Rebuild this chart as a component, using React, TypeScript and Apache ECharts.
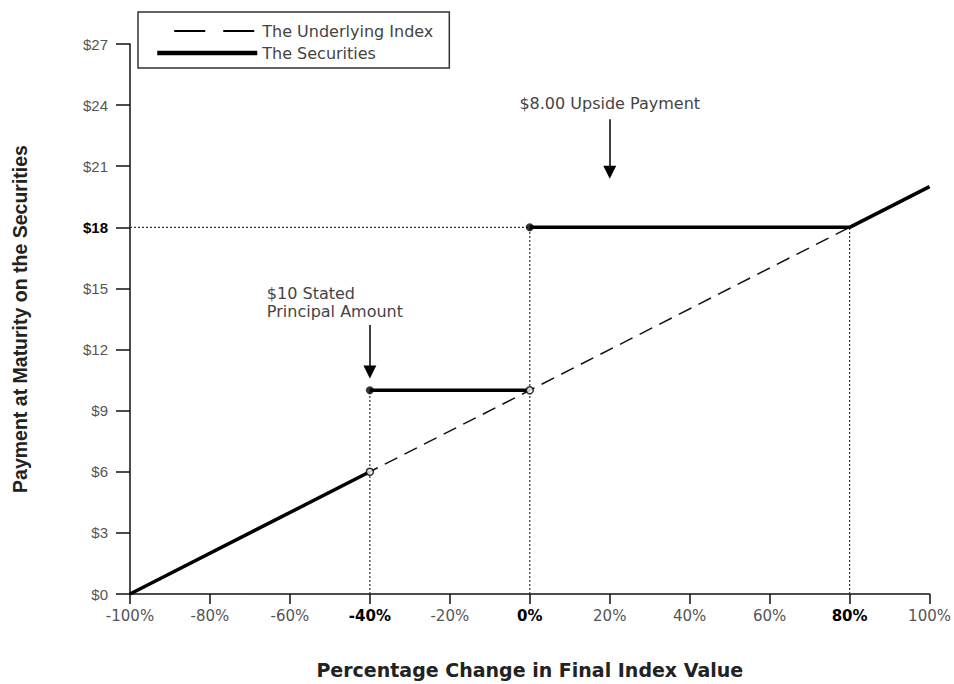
import React, { useEffect, useRef } from "react";
import * as echarts from "echarts";

// ---- data ----
const X_BOLD = [-40, 0, 80];
const Y_BOLD = [18];

const INDEX_PCT = [-100, -40, 0, 80, 100];
const INDEX_PAY = [0, 6, 10, 18, 20];

const SEC_PCT = [-100, -40, -40, -40, 0, 0, 0, 80, 100];
const SEC_PAY: (number | null)[] = [0, 6, null, 10, 10, null, 18, 18, 20];

const FILLED_PCT = [-40, 0];
const FILLED_PAY = [10, 18];
const OPEN_PCT = [-40, 0];
const OPEN_PAY = [6, 10];

const GUIDE_V_PCT = [-40, 0, 80];
const GUIDE_V_PAY = [10, 18, 18];
const GUIDE_H_PAY = [18];
const GUIDE_H_TO_PCT = [0];

const NOTE_TEXT = ["$10 Stated\nPrincipal Amount", "$8.00 Upside Payment"];
const NOTE_PCT = [-40, 20];
const NOTE_FROM = [13.2, 23.3];
const NOTE_TO = [10.9, 20.7];

const SERIES_INDEX = "The Underlying Index";
const SERIES_SEC = "The Securities";

const TICK_FONT = "DejaVu Sans";
const Y_FONT = "Liberation Sans";

export default function App() {
  const ref = useRef<HTMLDivElement>(null);

  useEffect(() => {
    if (!ref.current) return;
    const chart = echarts.init(ref.current, undefined, { renderer: "svg" });

    const guideData: any[] = [];
    GUIDE_V_PCT.forEach((x, i) => {
      guideData.push([x, 0], [x, GUIDE_V_PAY[i]], [x, "-"]);
    });
    GUIDE_H_PAY.forEach((y, i) => {
      guideData.push([-100, y], [GUIDE_H_TO_PCT[i], y], [GUIDE_H_TO_PCT[i], "-"]);
    });

    const arrowData = NOTE_PCT.map((x, i) => [
      { coord: [x, NOTE_FROM[i]] },
      { coord: [x, NOTE_TO[i]] },
    ]);

    const option: any = {
      animation: false,
      color: ["#000", "#000", "#000", "#000", "#000"],
      grid: { left: 130, right: 18, top: 44, bottom: 86 },
      legend: {
        left: 138,
        top: 12,
        orient: "vertical",
        itemWidth: 100,
        itemHeight: 14,
        itemGap: 6,
        padding: [11, 16, 7, 17],
        borderColor: "#333",
        borderWidth: 1.5,
        itemStyle: { opacity: 0 },
        textStyle: { fontFamily: TICK_FONT, fontSize: 16, color: "#444" },
        data: [
          {
            name: SERIES_INDEX,
            itemStyle: { opacity: 0 },
            lineStyle: { type: [31, 18], dashOffset: 32, width: 2, color: "#000" },
          },
          {
            name: SERIES_SEC,
            itemStyle: { opacity: 0 },
            lineStyle: { width: 4.5, color: "#000" },
          },
        ],
        selectedMode: false,
      },
      xAxis: {
        type: "value",
        min: -100,
        max: 100,
        interval: 20,
        name: "Percentage Change in Final Index Value",
        nameLocation: "middle",
        nameGap: 66,
        nameTextStyle: {
          fontFamily: TICK_FONT,
          fontWeight: "bold",
          fontSize: 19,
          color: "#222",
        },
        axisLine: { onZero: false, lineStyle: { color: "#111", width: 1.5 } },
        axisTick: { length: 10, lineStyle: { color: "#111", width: 1.5 } },
        splitLine: { show: false },
        axisLabel: {
          margin: 14,
          fontFamily: TICK_FONT,
          fontSize: 15,
          color: "#555",
          formatter: (v: number) =>
            X_BOLD.includes(v) ? `{b|${v}%}` : `${v}%`,
          rich: {
            b: { fontFamily: TICK_FONT, fontSize: 15, fontWeight: "bold", color: "#000" },
          },
        },
      },
      yAxis: {
        type: "value",
        min: 0,
        max: 27,
        interval: 3,
        name: "Payment at Maturity on the Securities",
        nameLocation: "middle",
        nameGap: 100,
        nameTextStyle: {
          fontFamily: Y_FONT,
          fontWeight: "bold",
          fontSize: 19.5,
          color: "#222",
        },
        axisLine: { show: true, onZero: false, lineStyle: { color: "#111", width: 1.5 } },
        axisTick: { show: true, length: 14, lineStyle: { color: "#111", width: 1.5 } },
        splitLine: { show: false },
        axisLabel: {
          margin: 22,
          fontFamily: Y_FONT,
          fontSize: 15,
          color: "#555",
          formatter: (v: number) => (Y_BOLD.includes(v) ? `{b|$${v}}` : `$${v}`),
          rich: {
            b: { fontFamily: Y_FONT, fontSize: 15, fontWeight: "bold", color: "#000" },
          },
        },
      },
      series: [
        {
          name: "guides",
          type: "line",
          data: guideData,
          symbol: "none",
          connectNulls: false,
          silent: true,
          z: 1,
          lineStyle: { color: "#333", width: 1.2, type: [2, 2] },
        },
        {
          name: SERIES_INDEX,
          type: "line",
          data: INDEX_PCT.map((x, i) => [x, INDEX_PAY[i]]),
          symbol: "none",
          z: 2,
          itemStyle: { color: "#000" },
          lineStyle: { color: "#111", width: 1.5, type: [14, 8] },
        },
        {
          name: SERIES_SEC,
          type: "line",
          data: SEC_PCT.map((x, i) => [x, SEC_PAY[i] === null ? "-" : SEC_PAY[i]]),
          symbol: "none",
          connectNulls: false,
          z: 3,
          itemStyle: { color: "#000" },
          lineStyle: { color: "#000", width: 3.5 },
        },
        {
          name: "filled",
          type: "scatter",
          data: FILLED_PCT.map((x, i) => [x, FILLED_PAY[i]]),
          symbol: "circle",
          symbolSize: 8,
          z: 5,
          itemStyle: { color: "#000" },
          markLine: {
            silent: true,
            symbol: ["none", "triangle"],
            symbolSize: 13,
            label: { show: false },
            lineStyle: { color: "#000", width: 1.5, type: "solid" },
            data: arrowData,
          },
        },
        {
          name: "open",
          type: "scatter",
          data: OPEN_PCT.map((x, i) => [x, OPEN_PAY[i]]),
          symbol: "circle",
          symbolSize: 7,
          z: 5,
          itemStyle: { color: "#fff", borderColor: "#000", borderWidth: 1.5 },
        },
      ],
    };

    chart.setOption(option);

    const p0 = chart.convertToPixel({ xAxisIndex: 0, yAxisIndex: 0 }, [NOTE_PCT[0], NOTE_FROM[0]]) as number[];
    const p1 = chart.convertToPixel({ xAxisIndex: 0, yAxisIndex: 0 }, [NOTE_PCT[1], NOTE_FROM[1]]) as number[];

    chart.setOption({
      graphic: [
        {
          type: "text",
          x: p0[0] - 103,
          y: p0[1] - 5,
          style: {
            text: NOTE_TEXT[0],
            fontFamily: TICK_FONT,
            fontSize: 16,
            lineHeight: 18,
            fill: "#444",
            align: "left",
            verticalAlign: "bottom",
          },
        },
        {
          type: "text",
          x: p1[0],
          y: p1[1] - 8,
          style: {
            text: NOTE_TEXT[1],
            fontFamily: TICK_FONT,
            fontSize: 16,
            fill: "#444",
            align: "center",
            verticalAlign: "bottom",
          },
        },
      ],
    });

    return () => chart.dispose();
  }, []);

  return (
    <div
      ref={ref}
      style={{ position: "absolute", left: 0, top: 0, width: 954, height: 684, background: "#fff" }}
    />
  );
}
